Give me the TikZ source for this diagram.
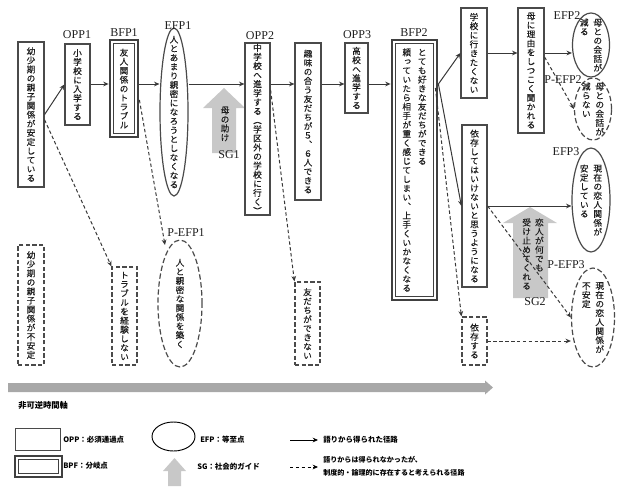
\documentclass[tikz,border=0pt]{standalone}
\usepackage{fontspec}
\setmainfont{Liberation Serif}
\newfontfamily\jp[RawFeature=+vert, FakeBold=0.35]{Noto Sans CJK JP}
\newfontfamily\jph{Noto Sans CJK JP}
\usetikzlibrary{arrows.meta,calc,shapes.geometric}
\definecolor{boxc}{HTML}{4A4A4A}
\definecolor{bfpc}{HTML}{404040}
\definecolor{linec}{HTML}{383838}
\definecolor{txt}{HTML}{1E1E1E}
\definecolor{sgc}{HTML}{C8C8C8}
\definecolor{axc}{HTML}{A8A8A8}
\newlength\tatepitch \setlength\tatepitch{6.8pt}
\def\tateend{TATEEND}
\def\tateloop#1{\ifx\tateend#1\else\hbox to 6.6pt{\hss#1\hss}\expandafter\tateloop\fi}
\newcommand\tcol[1]{\vtop{\jp\baselineskip=\tatepitch\lineskiplimit=-20pt\lineskip=0pt\tateloop#1\tateend}}
\newcommand\tz[1]{\vbox to 0pt{\vss\hbox{#1}\vss}}
\newcommand\vtext[1]{\tz{\tcol{#1}}}
\newcommand\vtwo[3][3.5pt]{\tz{\tcol{#3}\hskip#1\tcol{#2}}}
\tikzset{
  sz/.style 2 args={minimum width=#1*0.75pt, minimum height=#2*0.75pt},
  box/.style={draw=boxc, line width=0.9pt, inner sep=0pt, text=txt, font=\fontsize{6.5pt}{6.8pt}\selectfont\jp},
  dbox/.style={box, dash pattern=on 3.2pt off 1.8pt},
  bfp/.style={draw=bfpc, line width=2.1pt, inner sep=0pt, text=txt, font=\fontsize{6.5pt}{6.8pt}\selectfont\jp,
    path picture={\draw[draw=bfpc, line width=0.6pt] ([shift={(2.4pt,-2.4pt)}]path picture bounding box.north west) rectangle ([shift={(-2.4pt,2.4pt)}]path picture bounding box.south east);}},
  oval/.style={ellipse, draw=boxc, line width=0.9pt, inner sep=0pt, text=txt, font=\fontsize{6.5pt}{6.8pt}\selectfont\jp},
  doval/.style={oval, dash pattern=on 4pt off 2pt},
  sgtext/.style={inner sep=0pt, text=txt, font=\fontsize{6.5pt}{6.8pt}\selectfont\jp},
  lab/.style={inner sep=0pt, text=txt, font=\fontsize{9pt}{9pt}\selectfont},
  legt/.style={inner sep=0pt, anchor=west, align=left, text=black, font=\fontsize{5.6pt}{9.5pt}\selectfont\jph\bfseries},
  arr/.style={draw=linec, line width=0.75pt, -{Stealth[length=4pt,width=3.5pt]}},
  darr/.style={arr, dash pattern=on 2.6pt off 1.8pt},
}
\begin{document}
\begin{tikzpicture}[x=0.75pt,y=-0.75pt]
\useasboundingbox (0,0) rectangle (630,486);
\coordinate (main) at (0,84);

% social guides (background)
\fill[sgc] (212,153) -- (212,108) -- (203,108) -- (224,88) -- (245,108) -- (236,108) -- (236,153) -- cycle;
\fill[sgc] (513,298) -- (513,223) -- (503,223) -- (530,207) -- (557,223) -- (548,223) -- (548,298) -- cycle;
\node[sgtext] (sg1t) at (225,124) {\vtext{母の助け}};
\node[sgtext] (sg2t) at (533,254) {\vtwo[3pt]{恋人が何でも}{受け止めてくれる}};
\node[lab] (lsg1) at (229,155) {SG1};
\node[lab] (lsg2) at (535,302) {SG2};

% main nodes
\node[box,sz={26}{145}] (n1) at (31,114.5) {\vtext{幼少期の親子関係が安定している}};
\node[box,sz={25}{81}] (opp1) at (77.5,84.5) {\vtext{小学校に入学する}};
\node[bfp,sz={28}{97}] (bfp1) at (124,88.5) {\vtext{友人関係のトラブル}};
\node[oval,sz={28}{168}] (efp1) at (174,112) {\vtext{人とあまり親密になろうとしなくなる}};
\node[box,sz={25}{172}] (opp2) at (257.5,129) {\vtext{中学校へ進学する（学区外の学校に行く）}};
\node[box,sz={26}{157}] (hobby) at (308,121.5) {\vtext{趣味の合う友だちが５、６人できる}};
\node[box,sz={23}{70}] (opp3) at (356.5,78) {\vtext{高校へ進学する}};
\node[bfp,sz={45}{260}] (bfp2) at (414.5,170) {\vtwo[5pt]{とても好きな友だちができる}{頼っていたら相手が重く感じてしまい、上手くいかなくなる}};
\node[box,sz={26}{90}] (school) at (474,53) {\vtext{学校に行きたくない}};
\node[box,sz={26}{125}] (asked) at (531,70.5) {\vtext{母に理由をしつこく聞かれる}};
\node[oval,sz={37}{64}] (efp2) at (591,45) {\vtwo{母との会話が}{減る}};
\node[doval,sz={37}{62}] (pefp2) at (593,109) {\vtwo{母との会話が}{減らない}};
\node[box,sz={25}{162}] (notdep) at (474.5,206) {\vtext{依存してはいけないと思うようになる}};
\node[oval,sz={38}{104}] (efp3) at (591,200) {\vtwo{現在の恋人関係が}{安定している}};
\node[dbox,sz={25}{48}] (dep) at (474.5,341) {\vtext{依存する}};
\node[doval,sz={43}{99}] (pefp3) at (593,317.5) {\vtwo{現在の恋人関係が}{不安定}};
\node[dbox,sz={26}{120}] (n1b) at (31,305) {\vtext{幼少期の親子関係が不安定}};
\node[dbox,sz={25}{98}] (notrouble) at (124.5,316) {\vtext{トラブルを経験しない}};
\node[doval,sz={44}{127}] (pefp1) at (180,303.5) {\vtext{人と親密な関係を築く}};
\node[dbox,sz={25}{83}] (nofriend) at (307.5,323.5) {\vtext{友だちができない}};
\coordinate (pe1in) at (165,245);

% labels
\node[lab] (lopp1) at (77,35) {OPP1};
\node[lab] (lbfp1) at (124,33) {BFP1};
\node[lab] (lefp1) at (178,26) {EFP1};
\node[lab] (lopp2) at (260,36) {OPP2};
\node[lab] (lopp3) at (357,35) {OPP3};
\node[lab] (lbfp2) at (414,33) {BFP2};
\node[lab] (lefp2) at (567,16) {EFP2};
\node[lab] (lpefp2) at (563,80) {P-EFP2};
\node[lab] (lefp3) at (566,152) {EFP3};
\node[lab] (lpefp3) at (566,265) {P-EFP3};
\node[lab] (lpefp1) at (186,233) {P-EFP1};

% solid paths
\draw[arr] (n1.east) -- (opp1.west);
\draw[arr] (opp1.east|-main) -- (bfp1.west|-main);
\draw[arr] (bfp1.east|-main) -- (efp1.west|-main);
\draw[arr] (efp1.east|-main) -- (opp2.west|-main);
\draw[arr] (opp2.east|-main) -- (hobby.west|-main);
\draw[arr] (hobby.east|-main) -- (opp3.west|-main);
\draw[arr] (opp3.east|-main) -- (bfp2.west|-main);
\draw[arr] (bfp2.east|-main) -- (school.west);
\draw[arr] (school.east) -- (school.east-|asked.west);
\draw[arr] (school.east-|asked.east) -- (school.east-|efp2.west);
\draw[arr] (bfp2.east|-main) -- (notdep.west);
\draw[arr] (notdep.east) -- (notdep.east-|efp3.west);

% dashed paths
\draw[darr] ([yshift=-4pt]n1.east) -- (notrouble.north west);
\draw[darr] ([yshift=-8.6pt]bfp1.east) -- (pe1in);
\draw[darr] ($(opp2.east|-main)+(0,6)$) -- (nofriend.north west);
\draw[darr] ($(bfp2.east|-main)+(-3,4)$) -- (dep.north west);
\draw[darr] ($(school.east-|asked.east)+(0,4)$) -- (pefp2.west);
\draw[darr] (notdep.east) -- (pefp3.west);
\draw[darr] (dep.east) -- (dep.east-|pefp3.west);

% time axis
\fill[axc] (8,383) -- (485,383) -- (485,380.5) -- (493,387.5) -- (485,394.5) -- (485,392) -- (8,392) -- cycle;
\node[legt, font=\fontsize{6.2pt}{7pt}\selectfont\jph\bfseries] (axis) at (18,405) {非可逆時間軸};

% legend
\node[box, line width=0.7pt, sz={45}{22}] (legopp) at (37.5,439) {};
\node[legt] (legoppt) at (63,440) {OPP：必須通過点};
\node[bfp, sz={47}{21}] (legbfp) at (38.5,466.5) {};
\node[legt] (legbfpt) at (63,466) {BPF：分岐点};
\node[oval, line width=0.7pt, draw=black, sz={43}{29}] (legefp) at (173.5,436.5) {};
\node[legt] (legefpt) at (200,440) {EFP：等至点};
\fill[sgc] (168,486) -- (168,471) -- (163,471) -- (174.5,458) -- (186,471) -- (181,471) -- (181,486) -- cycle;
\node[legt] (legsgt) at (197,467) {SG：社会的ガイド};
\coordinate (la1) at (290,440);
\coordinate (la2) at (318,440);
\draw[arr, draw=black] (la1) -- (la2);
\node[legt] (legat) at (323,440) {語りから得られた径路};
\coordinate (lb1) at (290,467);
\coordinate (lb2) at (318,467);
\draw[darr, draw=black] (lb1) -- (lb2);
\node[legt, font=\fontsize{5.3pt}{9.5pt}\selectfont\jph\bfseries] (legbt) at (323,466.5) {語りからは得られなかったが、\\制度的・論理的に存在すると考えられる径路};
\end{tikzpicture}
\end{document}
